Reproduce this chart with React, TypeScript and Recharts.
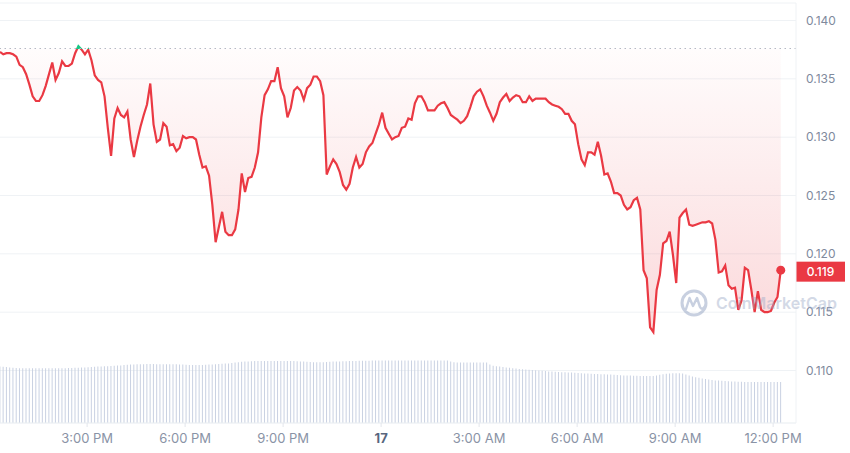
import React from 'react';
import {
  ComposedChart,
  Area,
  Bar,
  XAxis,
  YAxis,
  CartesianGrid,
  ReferenceLine,
  ReferenceDot,
} from 'recharts';

// one sample every 6 minutes, first one at 12:20 PM (minutes counted from 12:00 PM)
const startMinute = 20;
const stepMinutes = 6;

const prices = [
  0.1373, 0.1371, 0.1372, 0.1372, 0.1371, 0.1369, 0.1362, 0.1360, 0.1354, 0.1345,
  0.1335, 0.1331, 0.1331, 0.1336, 0.1344, 0.1354, 0.1364, 0.1349, 0.1355, 0.1365,
  0.1361, 0.1361, 0.1363, 0.1372, 0.1378, 0.1375, 0.1371, 0.1375, 0.1366, 0.1353,
  0.1349, 0.1347, 0.1335, 0.1308, 0.1284, 0.1316, 0.1325, 0.1319, 0.1317, 0.1322,
  0.1298, 0.1283, 0.1297, 0.1309, 0.1319, 0.1328, 0.1346, 0.1311, 0.1296, 0.1298,
  0.1312, 0.1309, 0.1293, 0.1294, 0.1288, 0.1291, 0.1301, 0.1299, 0.1300, 0.1300,
  0.1298, 0.1285, 0.1274, 0.1275, 0.1267, 0.1242, 0.1210, 0.1223, 0.1236, 0.1219,
  0.1216, 0.1216, 0.1221, 0.1238, 0.1269, 0.1253, 0.1265, 0.1266, 0.1274, 0.1287,
  0.1317, 0.1336, 0.1341, 0.1348, 0.1348, 0.1360, 0.1342, 0.1335, 0.1317, 0.1325,
  0.1340, 0.1343, 0.1340, 0.1332, 0.1342, 0.1345, 0.1352, 0.1352, 0.1348, 0.1336,
  0.1268, 0.1275, 0.1281, 0.1277, 0.1270, 0.1259, 0.1255, 0.1260, 0.1274, 0.1283,
  0.1274, 0.1277, 0.1287, 0.1292, 0.1295, 0.1303, 0.1311, 0.1321, 0.1308, 0.1303,
  0.1298, 0.1300, 0.1301, 0.1308, 0.1309, 0.1316, 0.1315, 0.1329, 0.1335, 0.1335,
  0.1330, 0.1323, 0.1323, 0.1323, 0.1327, 0.1329, 0.1330, 0.1325, 0.1319, 0.1317,
  0.1315, 0.1312, 0.1314, 0.1318, 0.1326, 0.1335, 0.1339, 0.1341, 0.1335, 0.1327,
  0.1321, 0.1314, 0.1320, 0.1330, 0.1334, 0.1337, 0.1331, 0.1334, 0.1336, 0.1335,
  0.1330, 0.1330, 0.1335, 0.1331, 0.1333, 0.1333, 0.1333, 0.1333, 0.1330, 0.1328,
  0.1327, 0.1326, 0.1324, 0.1320, 0.1320, 0.1314, 0.1311, 0.1294, 0.1281, 0.1276,
  0.1287, 0.1287, 0.1285, 0.1296, 0.1284, 0.1268, 0.1269, 0.1262, 0.1252, 0.1252,
  0.1250, 0.1242, 0.1238, 0.1240, 0.1246, 0.1248, 0.1238, 0.1186, 0.1179, 0.1137,
  0.1133, 0.1169, 0.1182, 0.1209, 0.1211, 0.1219, 0.1199, 0.1175, 0.1231, 0.1235,
  0.1238, 0.1225, 0.1224, 0.1225, 0.1226, 0.1227, 0.1227, 0.1228, 0.1226, 0.1212,
  0.1184, 0.1185, 0.1190, 0.1173, 0.1170, 0.1171, 0.1152, 0.1160, 0.1188, 0.1186,
  0.1169, 0.1150, 0.1168, 0.1152, 0.1150, 0.1150, 0.1151, 0.1158, 0.1163, 0.1186,
];

// 24h volume, millions
const volumes = [
  28.2, 28.1, 28.0, 27.8, 27.6, 27.5, 27.4, 27.4, 27.4, 27.4,
  27.4, 27.4, 27.4, 27.4, 27.4, 27.4, 27.4, 27.4, 27.4, 27.4,
  27.4, 27.5, 27.5, 27.6, 27.6, 27.7, 27.8, 27.9, 28.0, 28.1,
  28.2, 28.3, 28.4, 28.4, 28.5, 28.6, 28.7, 28.8, 29.0, 29.1,
  29.2, 29.3, 29.4, 29.4, 29.4, 29.5, 29.5, 29.5, 29.4, 29.4,
  29.4, 29.4, 29.4, 29.4, 29.4, 29.3, 29.2, 29.1, 29.0, 29.0,
  29.0, 29.0, 29.0, 29.1, 29.2, 29.3, 29.4, 29.5, 29.6, 29.7,
  29.8, 30.0, 30.2, 30.4, 30.6, 30.7, 30.8, 30.9, 31.0, 31.0,
  31.0, 31.0, 31.0, 31.0, 31.0, 31.0, 31.0, 31.0, 31.0, 31.0,
  31.0, 30.9, 30.8, 30.7, 30.6, 30.5, 30.4, 30.4, 30.4, 30.4,
  30.5, 30.6, 30.7, 30.8, 30.8, 30.9, 30.9, 31.0, 31.0, 31.0,
  31.1, 31.1, 31.1, 31.1, 31.2, 31.2, 31.2, 31.2, 31.3, 31.3,
  31.3, 31.3, 31.3, 31.3, 31.3, 31.3, 31.3, 31.3, 31.3, 31.3,
  31.3, 31.3, 31.3, 31.3, 31.3, 31.3, 31.3, 31.3, 30.8, 30.4,
  30.2, 30.2, 30.2, 30.2, 30.2, 30.2, 30.2, 30.2, 30.2, 30.2,
  29.2, 28.6, 28.4, 28.2, 28.0, 27.8, 27.6, 27.4, 27.2, 27.0,
  26.9, 26.8, 26.6, 26.5, 26.4, 26.2, 26.1, 26.0, 25.8, 25.7,
  25.6, 25.5, 25.4, 25.4, 25.3, 25.2, 25.1, 25.0, 24.9, 24.8,
  24.7, 24.6, 24.5, 24.5, 24.4, 24.4, 24.3, 24.2, 24.1, 24.0,
  23.9, 23.8, 23.7, 23.7, 23.6, 23.6, 23.5, 23.5, 23.5, 23.5,
  23.5, 23.8, 24.1, 24.4, 24.6, 24.8, 24.9, 24.9, 24.9, 24.8,
  24.3, 23.8, 23.3, 22.9, 22.6, 22.3, 22.0, 21.7, 21.5, 21.3,
  21.2, 21.1, 21.0, 20.9, 20.8, 20.7, 20.6, 20.6, 20.5, 20.5,
  20.5, 20.5, 20.5, 20.5, 20.5, 20.5, 20.5, 20.5, 20.5, 20.5,
];

const openPrice = 0.1376;
const priceTicks = [0.11, 0.115, 0.12, 0.125, 0.13, 0.135, 0.14];
const timeTicks = [180, 360, 540, 720, 900, 1080, 1260, 1440];
const timeLabels = ['3:00 PM', '6:00 PM', '9:00 PM', '17', '3:00 AM', '6:00 AM', '9:00 AM', '12:00 PM'];

const RED = '#ea3943';
const GREEN = '#16c784';

const data = prices.map((price, i) => ({
  t: startMinute + i * stepMinutes,
  price,
  volume: volumes[i],
}));

const last = data[data.length - 1];
const maxPrice = Math.max(...prices);
const minPrice = Math.min(...prices);
const splitOffset = Math.max(0, (maxPrice - openPrice) / (maxPrice - minPrice));

function TimeTick({ x, y, payload }: any) {
  const idx = timeTicks.indexOf(payload.value);
  const label = timeLabels[idx] ?? '';
  const isDay = label === '17';
  return (
    <text
      x={x}
      y={y}
      dy={9}
      textAnchor="middle"
      fontSize={13}
      fontWeight={isDay ? 700 : 400}
      fill={isDay ? '#58667e' : '#8a93a6'}
    >
      {label}
    </text>
  );
}

function PriceTag({ viewBox }: any) {
  const x = viewBox.x + viewBox.width;
  const y = viewBox.y;
  return (
    <g>
      <rect x={x} y={y - 8.5} width={49} height={20} fill={RED} />
      <text x={x + 24.5} y={y + 1.5} dy={4.3} textAnchor="middle" fill="#fff" fontSize={12} fontWeight={500}>
        {last.price.toFixed(3)}
      </text>
    </g>
  );
}

export default function App() {
  return (
    <div
      style={{
        position: 'absolute',
        left: 0,
        top: 0,
        width: 850,
        height: 453,
        background: '#fff',
        fontFamily: 'Inter, "Noto Sans", sans-serif',
      }}
    >
      <ComposedChart width={850} height={453} data={data} margin={{ top: 3, right: 0, bottom: 0, left: 0 }}>
        <defs>
          <linearGradient id="priceFill" x1="0" y1="0" x2="0" y2="1">
            <stop offset="0%" stopColor={RED} stopOpacity={0.02} />
            <stop offset="100%" stopColor={RED} stopOpacity={0.32} />
          </linearGradient>
          <linearGradient id="priceStroke" x1="0" y1="0" x2="0" y2="1">
            <stop offset={0} stopColor={GREEN} />
            <stop offset={splitOffset} stopColor={GREEN} />
            <stop offset={splitOffset} stopColor={RED} />
            <stop offset={1} stopColor={RED} />
          </linearGradient>
        </defs>

        <CartesianGrid vertical={false} stroke="#eff2f5" />

        <XAxis
          type="number"
          dataKey="t"
          domain={[20, 1482]}
          ticks={timeTicks}
          allowDataOverflow
          height={30}
          axisLine={{ stroke: '#eff2f5' }}
          tickLine={{ stroke: '#e3e6ec' }}
          tickSize={4}
          tickMargin={7}
          tick={<TimeTick />}
        />
        <YAxis
          orientation="right"
          width={54}
          domain={[0.1055, 0.1415]}
          ticks={priceTicks}
          allowDataOverflow
          axisLine={{ stroke: '#eff2f5' }}
          tickLine={false}
          tickSize={0}
          tickMargin={10}
          tick={{ fill: '#808a9d', fontSize: 12 }}
          tickFormatter={(v: number) => v.toFixed(3)}
        />
        <YAxis yAxisId="vol" hide domain={[0, 210]} />

        <Bar yAxisId="vol" dataKey="volume" fill="#c9d1e2" barSize={1} isAnimationActive={false} />

        <ReferenceLine y={openPrice} stroke="#b4b9c4" strokeDasharray="1.5 3.5" />

        <Area
          type="linear"
          dataKey="price"
          baseValue={openPrice}
          stroke="url(#priceStroke)"
          strokeWidth={2.2}
          fill="url(#priceFill)"
          dot={false}
          activeDot={false}
          isAnimationActive={false}
        />

        <ReferenceDot x={last.t} y={last.price} r={4.5} fill={RED} stroke="none" />
        <ReferenceLine y={last.price} stroke="none" label={<PriceTag />} />
      </ComposedChart>

      {/* watermark */}
      <svg
        width={850}
        height={453}
        style={{ position: 'absolute', left: 0, top: 0, pointerEvents: 'none' }}
      >
        <g opacity={0.45}>
          <circle cx={694} cy={303} r={12} fill="none" stroke="#8798bb" strokeWidth={3} />
          <path
            d="M686 309 L689.5 298 L693 306 L697 298 L700 307 Q702 311 705 306"
            fill="none"
            stroke="#8798bb"
            strokeWidth={2.4}
            strokeLinecap="round"
            strokeLinejoin="round"
          />
          <text x={716} y={308.5} fontSize={16} fontWeight={600} fill="#9eacc8" fontFamily="Inter, sans-serif">
            CoinMarketCap
          </text>
        </g>
      </svg>
    </div>
  );
}
